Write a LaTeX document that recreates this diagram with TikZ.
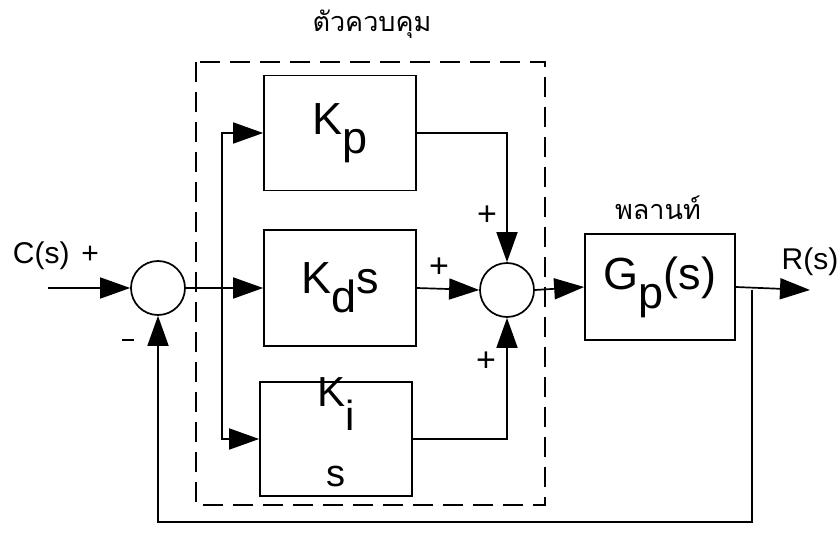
\documentclass[tikz,border=0pt]{standalone}
\usepackage{fontspec}
\setmainfont{Liberation Sans}
\newfontfamily\thaifont[Script=Thai]{Loma}
\usetikzlibrary{arrows.meta}
\begin{document}
\begin{tikzpicture}[x=1pt,y=-1pt, line width=1.7pt,
  blk/.style={draw, minimum width=152pt, minimum height=115pt, inner sep=0pt, font=\fontsize{45}{48}\selectfont},
  sumc/.style={draw, circle, minimum size=54pt, inner sep=0pt},
  arr/.style={-{Triangle[length=30pt,width=21pt]}},
  lbl/.style={font=\fontsize{30}{32}\selectfont, inner sep=0pt},
  sgn/.style={font=\fontsize{34}{36}\selectfont, inner sep=0pt},
  thai/.style={font=\fontsize{27}{30}\thaifont, inner sep=0pt},
  dashbox/.style={line width=2.2pt, dash pattern=on 20pt off 10pt}]
\useasboundingbox (0,0) rectangle (840,540);
% controller boundary
\draw[dashbox] (196,62) rectangle (545,505);
\node[thai] (ctl) at (372,24) {ตัวควบคุม};
% blocks
\node[blk] (kp) at (340,133) {K\raisebox{-0.42em}{p}};
\node[blk, minimum height=116pt] (kd) at (340,288) {K\raisebox{-0.42em}{d}s};
\node[blk, minimum height=114pt] (ki) at (336,439) {};
\node[font=\fontsize{42}{44}\selectfont, inner sep=0pt] (kitop) at (336,404) {K\raisebox{-0.55em}{i}};
\node[font=\fontsize{38}{40}\selectfont, inner sep=0pt] (kibot) at (336,476) {s};
\node[blk, minimum width=150pt, minimum height=106pt] (gp) at (660,287) {G\raisebox{-0.42em}{p}(s)};
\node[thai] (plant) at (658,208) {พลานท์};
% summing junctions
\node[sumc] (s1) at (158,288) {};
\node[sumc] (s2) at (507,290) {};
% input
\coordinate (in) at (48,288);
\node[lbl, anchor=west] (cs) at (12,256) {C(s)\hspace{0.4em}+};
\draw[arr] (in) -- (s1.west);
% branch
\coordinate (b) at (222,288);
\draw[arr] (s1.east) -- (kd.west);
\draw[arr] (b) |- (kp.west);
\draw[arr] (b) |- (ki.west);
% to summer 2
\draw[arr] (kp.east) -| (s2.north);
\draw[arr] (kd.east) -- (s2.west);
\draw[arr] (ki.east) -| (s2.south);
\node[sgn] (p1) at (487,216) {+};
\node[sgn] (p2) at (439,268) {+};
\node[sgn] (p3) at (486,362) {+};
% to plant
\draw[arr] (s2.east) -- (gp.west);
% output
\coordinate (out) at (810,290);
\coordinate (t) at (752,290);
\draw[arr] (gp.east) -- (out);
\node[lbl] (rs) at (810,262) {R(s)};
% feedback
\coordinate (fb) at (752,522);
\draw[arr] (t) -- (fb) -| (s1.south);
\node[sgn] (m1) at (128,340) {\rule{12pt}{2.5pt}};
\end{tikzpicture}
\end{document}
